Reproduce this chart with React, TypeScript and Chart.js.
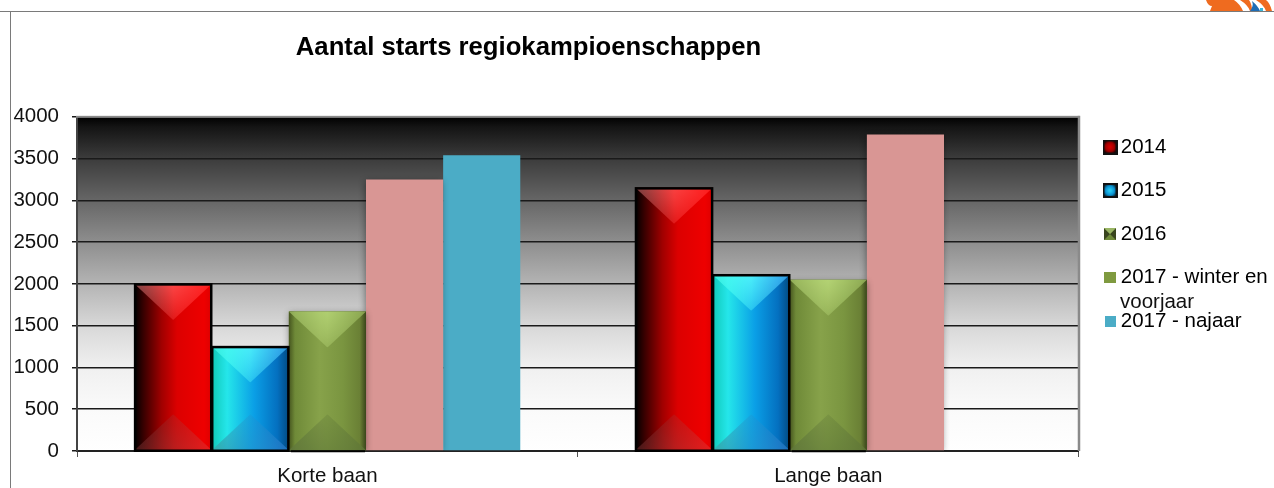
import React, { useEffect, useRef } from "react";
import { Chart, registerables } from "chart.js";

Chart.register(...registerables);

const categories = ["Korte baan", "Lange baan"];
const seriesNames = ["2014", "2015", "2016", "2017 - winter en voorjaar", "2017 - najaar"];
const values2014 = [2000, 3150];
const values2015 = [1250, 2110];
const values2016 = [1670, 2050];
const valuesWinter2017 = [3250, 3790];
const valuesNajaar2017 = [3540, null];
const titleText = "Aantal starts regiokampioenschappen";
const legendTexts = ["2014", "2015", "2016", "2017 - winter en", "2017 - najaar"];
const legendContinuation = "voorjaar";

const FONT = "'Liberation Sans', Arial, sans-serif";
const PINK = "#D99694";
const TEAL = "#4BACC6";
const OLIVE = "#7F9A3F";

type Bevel = {
  stops: [number, string][];
  top: [string, string, string];
  bottom: [string, string, string];
  border?: string;
};

const bevels: Record<number, Bevel> = {
  0: {
    stops: [[0, "#000000"], [0.12, "#3a0000"], [0.35, "#a00000"], [0.55, "#dc0000"], [0.9, "#ee0000"], [1, "#dd0000"]],
    top: ["#8a4a4a", "#ff4a4a", "#ff2020"],
    bottom: ["#502020", "#b02525", "#e82525"],
    border: "#000000",
  },
  1: {
    stops: [[0, "#10c8b8"], [0.2, "#25e6ea"], [0.55, "#0a9fe6"], [0.85, "#0470c0"], [1, "#024a80"]],
    top: ["#40f8e8", "#5affff", "#3cabfa"],
    bottom: ["#3ca8a8", "#1e96d2", "#2878c8"],
    border: "#000000",
  },
  2: {
    stops: [[0, "#46561f"], [0.08, "#6f8a38"], [0.4, "#87a24a"], [0.7, "#7a9540"], [0.92, "#6a8035"], [1, "#39451a"]],
    top: ["#a0be64", "#bede7d", "#96b45a"],
    bottom: ["#5f763c", "#69823c", "#5f7637"],
  },
};

function makeIcon(kind: number): HTMLCanvasElement {
  const c = document.createElement("canvas");
  const ctx = c.getContext("2d") as CanvasRenderingContext2D;
  if (kind === 0 || kind === 1) {
    c.width = 15;
    c.height = 15;
    ctx.fillStyle = "#111111";
    ctx.fillRect(0, 0, 15, 15);
    const g = ctx.createRadialGradient(7.5, 7.5, 1, 7.5, 7.5, 7);
    if (kind === 0) {
      g.addColorStop(0, "#d00000");
      g.addColorStop(0.6, "#a00000");
      g.addColorStop(1, "#200000");
    } else {
      g.addColorStop(0, "#25c8f0");
      g.addColorStop(0.6, "#0a90d0");
      g.addColorStop(1, "#063040");
    }
    ctx.fillStyle = g;
    ctx.fillRect(2, 2, 11, 11);
  } else if (kind === 2) {
    c.width = 12;
    c.height = 12;
    ctx.fillStyle = "#6f8a3a";
    ctx.fillRect(0, 0, 12, 12);
    ctx.fillStyle = "#39451f";
    ctx.beginPath();
    ctx.moveTo(0, 0);
    ctx.lineTo(6, 6);
    ctx.lineTo(0, 12);
    ctx.fill();
    ctx.beginPath();
    ctx.moveTo(12, 0);
    ctx.lineTo(6, 6);
    ctx.lineTo(12, 12);
    ctx.fill();
    ctx.fillStyle = "#9ab565";
    ctx.beginPath();
    ctx.moveTo(0, 0);
    ctx.lineTo(12, 0);
    ctx.lineTo(6, 6);
    ctx.fill();
  } else {
    c.width = kind === 3 ? 12 : 11;
    c.height = 11;
    ctx.fillStyle = kind === 3 ? OLIVE : TEAL;
    ctx.fillRect(0, 0, c.width, c.height);
  }
  return c;
}

function facet(ctx: any, l: number, r: number, apexX: number, edgeY: number, apexY: number, cols: [string, string, string], strong: number, weak: number) {
  const g = ctx.createLinearGradient(l, 0, r, 0);
  g.addColorStop(0, cols[0]);
  g.addColorStop(0.5, cols[1]);
  g.addColorStop(1, cols[2]);
  ctx.save();
  ctx.beginPath();
  ctx.moveTo(l, edgeY);
  ctx.lineTo(r, edgeY);
  ctx.lineTo(apexX, apexY);
  ctx.closePath();
  ctx.clip();
  ctx.fillStyle = g;
  const n = Math.ceil(Math.abs(apexY - edgeY));
  const dir = apexY > edgeY ? 1 : -1;
  for (let j = 0; j < n; j++) {
    ctx.globalAlpha = strong + (weak - strong) * (j / n);
    const yy = dir > 0 ? edgeY + j : edgeY - j - 1;
    ctx.fillRect(l, yy, r - l, 1);
  }
  ctx.restore();
}

const decorPlugin = {
  id: "decor",
  beforeDraw(chart: any) {
    const { ctx, chartArea: a } = chart;
    ctx.save();
    ctx.fillStyle = "#ffffff";
    ctx.fillRect(0, 0, chart.width, chart.height);
    const g = ctx.createLinearGradient(0, a.top, 0, a.bottom);
    g.addColorStop(0, "#000000");
    g.addColorStop(0.03, "#141414");
    g.addColorStop(0.125, "#3c3c3c");
    g.addColorStop(0.25, "#666666");
    g.addColorStop(0.375, "#8e8e8e");
    g.addColorStop(0.5, "#b4b4b4");
    g.addColorStop(0.625, "#d8d8d8");
    g.addColorStop(0.75, "#f0f0f0");
    g.addColorStop(0.875, "#fafafa");
    g.addColorStop(1, "#ffffff");
    ctx.fillStyle = g;
    ctx.fillRect(a.left, a.top, a.right - a.left, a.bottom - a.top);

    // page frame
    ctx.fillStyle = "#7a7a7a";
    ctx.fillRect(0, 11, chart.width, 1);
    ctx.fillRect(10, 11, 1, chart.height - 11);

    // corner logo
    ctx.fillStyle = "#EF6B1F";
    ctx.beginPath();
    ctx.moveTo(1206, 0);
    ctx.quadraticCurveTo(1208, 6, 1212, 6);
    ctx.lineTo(1210, 11);
    ctx.lineTo(1243, 11);
    ctx.quadraticCurveTo(1240, 4, 1234, 0);
    ctx.closePath();
    ctx.fill();
    ctx.beginPath();
    ctx.moveTo(1240, 0);
    ctx.quadraticCurveTo(1248, 5, 1250, 11);
    ctx.lineTo(1252, 11);
    ctx.quadraticCurveTo(1252, 4, 1249, 0);
    ctx.closePath();
    ctx.fill();
    ctx.beginPath();
    ctx.moveTo(1256, 0);
    ctx.quadraticCurveTo(1264, 5, 1266, 11);
    ctx.lineTo(1272, 11);
    ctx.quadraticCurveTo(1270, 3, 1266, 0);
    ctx.closePath();
    ctx.fill();
    ctx.fillStyle = "#1F6DB5";
    ctx.beginPath();
    ctx.moveTo(1252, 1);
    ctx.quadraticCurveTo(1258, 6, 1260, 11);
    ctx.lineTo(1250, 11);
    ctx.quadraticCurveTo(1254, 6, 1252, 1);
    ctx.closePath();
    ctx.fill();
    ctx.fillStyle = "#38B6D8";
    ctx.fillRect(1260, 8, 3, 3);
    ctx.restore();
  },
  beforeDatasetDraw(chart: any, args: any) {
    if (args.index === 2 || args.index === 3) {
      const ctx = chart.ctx;
      ctx.save();
      ctx.shadowColor = "rgba(0,0,0,0.45)";
      ctx.shadowBlur = 7;
      ctx.shadowOffsetX = args.index === 3 ? -1 : 0;
      ctx.shadowOffsetY = 2;
    }
  },
  afterDatasetDraw(chart: any, args: any) {
    const ctx = chart.ctx;
    if (args.index === 2 || args.index === 3) ctx.restore();
    const b = bevels[args.index];
    if (!b) return;
    const meta = chart.getDatasetMeta(args.index);
    meta.data.forEach((el: any) => {
      const { x, y, base, width } = el.getProps(["x", "y", "base", "width"], true);
      const l = x - width / 2;
      const r = x + width / 2;
      const depth = Math.min(36, (base - y) / 2);
      ctx.save();
      const body = ctx.createLinearGradient(l, 0, r, 0);
      b.stops.forEach(([p, c]) => body.addColorStop(p, c));
      ctx.fillStyle = body;
      ctx.fillRect(l, y, width, base - y);

      facet(ctx, l, r, x, y, y + depth, b.top, 1, 0.35);
      facet(ctx, l, r, x, base, base - depth, b.bottom, 0.95, 0.4);

      if (b.border) {
        ctx.strokeStyle = b.border;
        ctx.lineWidth = 2.5;
        ctx.strokeRect(l + 0.5, y + 0.5, width - 1, base - y);
      } else {
        ctx.fillStyle = "#000000";
        ctx.fillRect(l + 2, base, width - 3, 2);
      }
      ctx.restore();
    });
  },
  afterDraw(chart: any) {
    const { ctx, chartArea: a } = chart;
    ctx.save();
    ctx.fillStyle = "#8a8a8a";
    ctx.fillRect(a.left - 1, a.top - 1, a.right - a.left + 2, 2);
    ctx.fillRect(a.right - 1, a.top - 1, 2.5, a.bottom - a.top + 1);
    ctx.fillStyle = "#111111";
    ctx.font = `20.5px ${FONT}`;
    ctx.textBaseline = "middle";
    ctx.textAlign = "left";
    ctx.fillText(legendContinuation, 1120, 302);
    ctx.restore();
  },
  afterLayout(chart: any) {
    // Title centred over the plot as in the reference, legend block beside it.
    const t = chart.titleBlock;
    t.left = 0;
    t.right = 1057;
    const lg = chart.legend;
    lg.left = 1086.5;
    lg.top = 113.75;
  },
};

export default function App() {
  const ref = useRef<HTMLCanvasElement | null>(null);
  useEffect(() => {
    document.body.style.margin = "0";
    const solid = ["#c00000", "#0a90d0", "#6f8a3a", PINK, TEAL];
    const values = [values2014, values2015, values2016, valuesWinter2017, valuesNajaar2017];
    const icons = [0, 1, 2, 3, 4].map(makeIcon);
    const chart = new Chart(ref.current as HTMLCanvasElement, {
      type: "bar",
      data: {
        labels: categories,
        datasets: seriesNames.map((name, i) => ({
          label: name,
          data: values[i],
          backgroundColor: solid[i],
          borderWidth: 0,
          barPercentage: 1,
          categoryPercentage: 0.77,
        })),
      },
      plugins: [decorPlugin],
      options: {
        responsive: false,
        animation: false,
        devicePixelRatio: 1,
        layout: { padding: { right: 4 } },
        plugins: {
          tooltip: { enabled: false },
          title: {
            display: true,
            text: titleText,
            color: "#000000",
            font: { family: FONT, size: 25.7, weight: "bold" },
            padding: { top: 32, bottom: 54 },
          },
          legend: {
            display: true,
            position: "right",
            align: "start",
            maxWidth: 196,
            labels: {
              usePointStyle: true,
              boxWidth: 1,
              boxHeight: 20,
              padding: 23,
              color: "#111111",
              font: { family: FONT, size: 20.5 },
              generateLabels: () =>
                legendTexts.map((text, i) => ({
                  text,
                  pointStyle: icons[i],
                  fillStyle: solid[i],
                  strokeStyle: "transparent",
                  lineWidth: 0,
                  datasetIndex: i,
                  hidden: false,
                })),
            },
          },
        },
        scales: {
          x: {
            afterFit: (s: any) => {
              s.height = 37;
            },
            grid: {
              drawOnChartArea: false,
              drawTicks: true,
              tickLength: 6,
              color: "#555555",
              lineWidth: 1,
            },
            border: { color: "#222222", width: 2 },
            ticks: {
              color: "#111111",
              padding: 7,
              font: { family: FONT, size: 20.5 },
              maxRotation: 0,
            },
          },
          y: {
            min: 0,
            max: 4000,
            afterFit: (s: any) => {
              s.width = 77;
            },
            grid: {
              color: "#1a1a1a",
              lineWidth: 1.5,
              tickLength: 5,
            },
            border: { color: "#444444", width: 2 },
            ticks: {
              stepSize: 500,
              color: "#111111",
              padding: 13,
              font: { family: FONT, size: 20.5 },
              callback: (v: any) => String(v),
            },
          },
        },
      },
    } as any);
    return () => chart.destroy();
  }, []);
  return <canvas ref={ref} width={1274} height={488} style={{ display: "block" }} />;
}
